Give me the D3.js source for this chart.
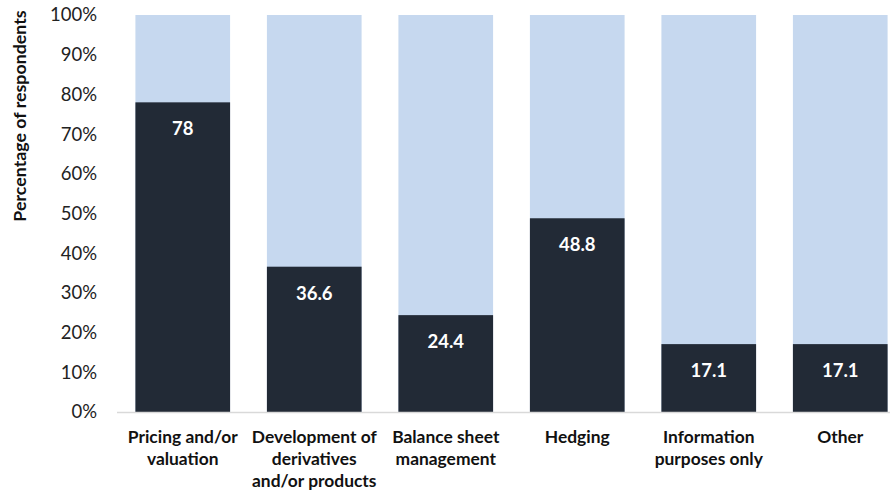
<!DOCTYPE html>
<html><head><meta charset="utf-8">
<script src="https://cdn.jsdelivr.net/npm/d3@7"></script>
<style>body{margin:0;background:#fff;} svg{display:block;font-family:Lato,"Open Sans",sans-serif;}</style>
</head><body>
<svg id="c" width="890" height="492"></svg>
<script>
const categories = [["Pricing and/or","valuation"],["Development of","derivatives","and/or products"],["Balance sheet","management"],["Hedging"],["Information","purposes only"],["Other"]];
const values = [78, 36.6, 24.4, 48.8, 17.1, 17.1];
const yTicks = [0,10,20,30,40,50,60,70,80,90,100];
const yTitle = "Percentage of respondents";

const svg = d3.select("#c");
const x = d3.scaleBand().domain(d3.range(categories.length)).range([117, 906]).paddingInner(0.28).paddingOuter(0.14);
const y = d3.scaleLinear().domain([0,100]).range([412, 15]);

const g = svg.append("g");
g.selectAll("rect.bg").data(values).join("rect").attr("class","bg")
  .attr("x",(d,i)=>x(i)).attr("width",x.bandwidth())
  .attr("y",y(100)).attr("height",y(0)-y(100)).attr("fill","#c6d8ef");
g.selectAll("rect.fg").data(values).join("rect").attr("class","fg")
  .attr("x",(d,i)=>x(i)).attr("width",x.bandwidth())
  .attr("y",d=>y(d)).attr("height",d=>y(0)-y(d)).attr("fill","#222a36");
g.selectAll("text.val").data(values).join("text").attr("class","val")
  .attr("x",(d,i)=>x(i)+x.bandwidth()/2).attr("y",d=>y(d)+26)
  .attr("text-anchor","middle").attr("dominant-baseline","central")
  .attr("fill","#fff").attr("font-weight","bold").attr("font-size",18.5)
  .text(d=>d);

const ya = d3.axisLeft(y).tickValues(yTicks).tickFormat(d=>d+"%").tickSize(0).tickPadding(0);
const yg = svg.append("g").attr("transform","translate(97,0)").call(ya);
yg.select(".domain").remove();
yg.selectAll("text").attr("font-size",18.5).attr("fill","#222").attr("font-family","Lato,'Open Sans',sans-serif");

svg.append("line").attr("x1",117).attr("x2",890).attr("y1",y(0)+0.5).attr("y2",y(0)+0.5).attr("stroke","#d9d9d9").attr("stroke-width",1.5);

const cl = svg.selectAll("text.cat").data(categories).join("text").attr("class","cat")
  .attr("text-anchor","middle").attr("font-weight","bold").attr("font-size",17.4).attr("fill","#111");
cl.each(function(lines,i){
  const t = d3.select(this);
  lines.forEach((l,j)=>{
    t.append("tspan").attr("x",x(i)+x.bandwidth()/2).attr("y",443+j*22).text(l);
  });
});

svg.append("text").attr("transform","translate(26,116) rotate(-90)")
  .attr("text-anchor","middle").attr("font-weight","bold").attr("font-size",17.8).attr("fill","#111")
  .text(yTitle);
</script>
</body></html>
